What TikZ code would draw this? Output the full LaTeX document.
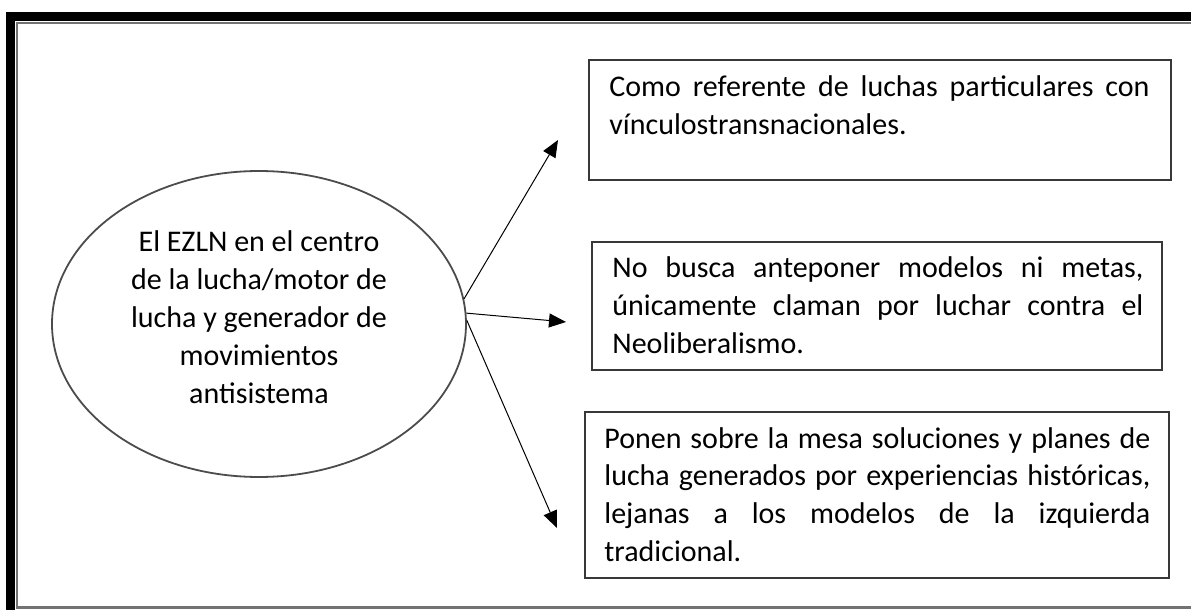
\documentclass[tikz,border=0pt]{standalone}
\usepackage{fontspec}
\setmainfont{Carlito}
\usetikzlibrary{arrows.meta,shapes.geometric}
\begin{document}
\begin{tikzpicture}[x=0.5pt,y=-0.5pt,
  boxnode/.style={draw=black!78,line width=1pt,anchor=north west,inner sep=0pt},
  txt/.style={font=\fontsize{15}{19}\selectfont,inner sep=0pt},
  arr/.style={-{Triangle[length=8.5pt,width=7pt]},line width=0.5pt,black}]
\useasboundingbox (0,0) rectangle (1191,610);
\fill[white] (0,0) rectangle (1191,610);
% page frame
\fill[black] (6,12) rectangle (1191,21);
\fill[black] (6,12) rectangle (15,610);
\draw[black!55,line width=1.1pt] (1191,23) -- (17,23) -- (17,607.5) -- (1191,607.5);
% central ellipse
\node[ellipse,draw=black!70,line width=0.9pt,minimum width=207pt,minimum height=153pt,inner sep=0pt] (c) at (259,324) {};
\node[txt,anchor=base] (ct) at (259,252) {\vtop{%
  \hbox to 160pt{\hfil El EZLN en el centro\hfil}
  \hbox to 160pt{\hfil de la lucha/motor de\hfil}
  \hbox to 160pt{\hfil lucha y generador de\hfil}
  \hbox to 160pt{\hfil movimientos\hfil}
  \hbox to 160pt{\hfil antisistema\hfil}}};
% boxes
\node[boxnode,minimum width=291pt,minimum height=60pt] (b1) at (588,59) {};
\node[boxnode,minimum width=285pt,minimum height=64pt] (b2) at (591,241) {};
\node[boxnode,minimum width=292pt,minimum height=83pt] (b3) at (584,411) {};
% box texts
\node[txt,anchor=base west] (t1) at (609,97) {\vtop{%
  \hbox to 270pt{Como referente de luchas particulares con}
  \hbox{vínculostransnacionales.}}};
\node[txt,anchor=base west] (t2) at (612,278) {\vtop{%
  \hbox to 265.5pt{No busca anteponer modelos ni metas,}
  \hbox to 265.5pt{únicamente claman por luchar contra el}
  \hbox{Neoliberalismo.}}};
\node[txt,anchor=base west] (t3) at (604,448) {\vtop{%
  \hbox to 273pt{Ponen sobre la mesa soluciones y planes de}
  \hbox to 273pt{lucha generados por experiencias históricas,}
  \hbox to 273pt{lejanas a los modelos de la izquierda}
  \hbox{tradicional.}}};
% arrows
\coordinate (a1) at (558,140);
\coordinate (a2) at (566,322);
\coordinate (a3) at (557,528);
\draw[arr] (c.7) -- (a1);
\draw[arr] (c.3) -- (a2);
\draw[arr] (c.1.5) -- (a3);
\end{tikzpicture}
\end{document}
